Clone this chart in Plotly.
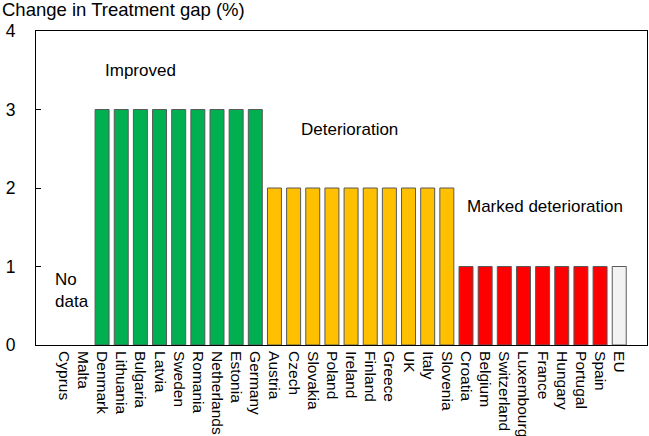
import plotly.graph_objects as go

countries = ["Cyprus", "Malta", "Denmark", "Lithuania", "Bulgaria", "Latvia", "Sweden",
             "Romania", "Netherlands", "Estonia", "Germany", "Austria", "Czech", "Slovakia",
             "Poland", "Ireland", "Finland", "Greece", "UK", "Italy", "Slovenia", "Croatia",
             "Belgium", "Switzerland", "Luxembourg", "France", "Hungary", "Portugal", "Spain", "EU"]
change = [None, None, 3, 3, 3, 3, 3, 3, 3, 3, 3, 2, 2, 2, 2, 2, 2, 2, 2, 2, 2,
          1, 1, 1, 1, 1, 1, 1, 1, 1]
group = ["none", "none"] + ["improved"] * 9 + ["deterioration"] * 10 + ["marked"] * 8 + ["eu"]
group_colors = {"none": "#FFFFFF", "improved": "#00B050", "deterioration": "#FFC000",
                "marked": "#FF0000", "eu": "#F2F2F2"}
y_ticks = [0, 1, 2, 3, 4]

FONT = "Arial, Liberation Sans, sans-serif"

fig = go.Figure()
fig.add_trace(go.Bar(
    x=list(range(len(countries))), y=change,
    marker=dict(color=[group_colors[g] for g in group],
                line=dict(color="#595959", width=1)),
    width=0.73, hoverinfo="skip",
))

fig.update_layout(
    width=649, height=436,
    margin=dict(l=36, r=2, t=31, b=91),
    plot_bgcolor="white", paper_bgcolor="white",
    showlegend=False,
    font=dict(family=FONT, color="black"),
    xaxis=dict(
        range=[-1.45, 30.45], tickmode="array",
        tickvals=list(range(len(countries))), ticktext=countries,
        tickangle=90, tickfont=dict(size=15.5, family=FONT), ticks="",
        showline=True, linecolor="black", linewidth=1, mirror=True,
        showgrid=False, zeroline=False, ticklabelstandoff=2, automargin=False,
    ),
    yaxis=dict(
        range=[0, 4], tickvals=y_ticks, ticks="inside", ticklen=5,
        tickcolor="black", tickfont=dict(size=17.5, family=FONT),
        showline=True, linecolor="black", linewidth=1, mirror=True,
        showgrid=False, zeroline=False, ticklabelstandoff=16, automargin=False,
    ),
    annotations=[
        dict(text="Change in Treatment gap (%)", xref="paper", yref="paper",
             x=-36 / 611, y=1 + 21 / 314, xanchor="left", yanchor="middle",
             showarrow=False, font=dict(size=18.5, family=FONT)),
        dict(text="Improved", x=4, y=3.5, showarrow=False, font=dict(size=17, family=FONT)),
        dict(text="Deterioration", x=14.9, y=2.74, showarrow=False, font=dict(size=17, family=FONT)),
        dict(text="Marked deterioration", x=25.1, y=1.77, showarrow=False, font=dict(size=17, family=FONT)),
        dict(text="No<br>data", x=-0.55, y=0.7, xanchor="left", showarrow=False, align="left",
             font=dict(size=17, family=FONT)),
    ],
)

fig.write_html("out.html", config={"displayModeBar": False},
               post_script="document.body.style.margin='0';")
